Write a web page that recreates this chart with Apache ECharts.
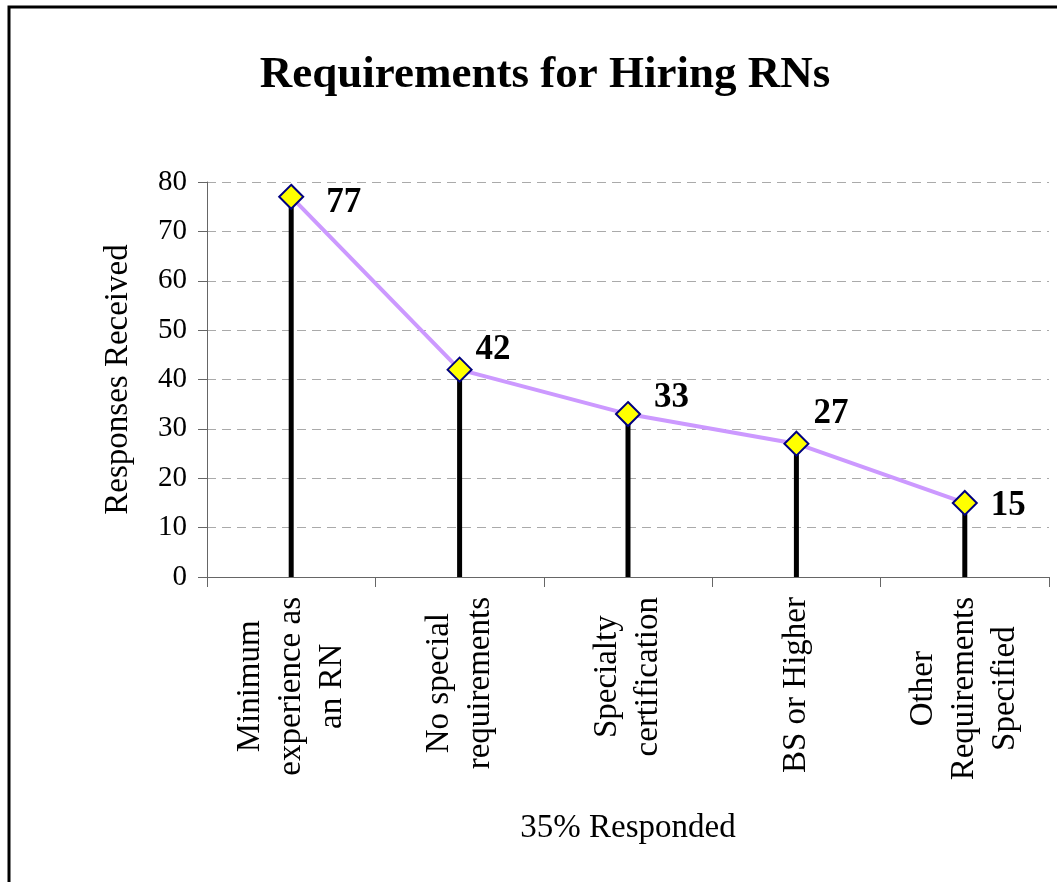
<!DOCTYPE html>
<html>
<head>
<meta charset="utf-8">
<style>
  html, body { margin: 0; padding: 0; background: #fff; }
  #chart { width: 1057px; height: 882px; }
</style>
<script src="https://cdn.jsdelivr.net/npm/echarts@6/dist/echarts.min.js"></script>
</head>
<body>
<div id="chart"></div>
<script>
// chart data
const categories = [
  'Minimum\nexperience as\nan RN',
  'No special\nrequirements',
  'Specialty\ncertification',
  'BS or Higher',
  'Other\nRequirements\nSpecified',
]
const responses = [77, 42, 33, 27, 15]
const yTicks = [0, 10, 20, 30, 40, 50, 60, 70, 80]

// where each value label sits next to its marker (style only)
const labelOffsets = [[22, 6], [3, -20], [13, -16], [4, -30], [13, 3]]

const serif = '"Liberation Serif", "Times New Roman", serif'

const chart = echarts.init(document.getElementById('chart'))

const option = {
  animation: false,
  backgroundColor: '#fff',
  textStyle: {
    fontFamily: serif,
    color: '#000',
  },
  graphic: [{
    type: 'rect',
    shape: { x: 9, y: 7, width: 1200, height: 1000 },
    style: { fill: 'none', stroke: '#000', lineWidth: 3 },
    silent: true,
  }],
  title: {
    text: 'Requirements for Hiring RNs',
    left: 540,
    top: 48,
    textAlign: 'center',
    textStyle: {
      fontFamily: serif,
      fontSize: 45,
      fontWeight: 'bold',
      color: '#000',
    },
  },
  grid: {
    left: 207,
    right: 8,
    top: 182,
    bottom: 305,
    containLabel: false,
  },
  xAxis: {
    type: 'category',
    data: categories,
    name: '35% Responded',
    nameLocation: 'middle',
    nameGap: 235,
    nameTextStyle: {
      fontFamily: serif,
      fontSize: 33,
      color: '#000',
    },
    axisLine: {
      lineStyle: { color: '#666', width: 1 },
    },
    axisTick: {
      show: true,
      length: 10,
      alignWithLabel: false,
      lineStyle: { color: '#666' },
    },
    axisLabel: {
      rotate: 90,
      margin: 20,
      interval: 0,
      formatter: (v) => v.split('\n').map((s) => '{c|' + s + '}').join('\n'),
      rich: {
        c: {
          align: 'center',
          fontFamily: serif,
          fontSize: 33,
          lineHeight: 41,
          color: '#000',
        },
      },
    },
    splitLine: { show: false },
  },
  yAxis: {
    type: 'value',
    min: 0,
    max: 80,
    interval: 10,
    name: 'Responses Received',
    nameLocation: 'middle',
    nameGap: 72,
    nameTextStyle: {
      fontFamily: serif,
      fontSize: 33,
      color: '#000',
    },
    axisLine: {
      show: true,
      lineStyle: { color: '#666', width: 1 },
    },
    axisTick: {
      show: true,
      length: 9,
      lineStyle: { color: '#666' },
    },
    axisLabel: {
      margin: 20,
      fontFamily: serif,
      fontSize: 29,
      color: '#000',
      formatter: (v) => (yTicks.includes(v) ? String(v) : ''),
    },
    splitLine: {
      show: true,
      lineStyle: { color: '#aaa', type: [9, 6], width: 1 },
    },
  },
  series: [{
    // drop lines from each point to the axis
    type: 'bar',
    data: responses,
    barWidth: 5,
    z: 2,
    itemStyle: { color: '#000' },
    silent: true,
  }, {
    type: 'line',
    z: 3,
    symbol: 'diamond',
    symbolSize: 24,
    lineStyle: { color: '#cc99ff', width: 4 },
    itemStyle: { color: '#ffff00', borderColor: '#000080', borderWidth: 2 },
    data: responses.map((v, i) => ({
      value: v,
      label: { offset: labelOffsets[i] },
    })),
    label: {
      show: true,
      position: 'right',
      distance: 0,
      fontFamily: serif,
      fontSize: 35,
      fontWeight: 'bold',
      color: '#000',
    },
  }],
}

chart.setOption(option)
</script>
</body>
</html>
